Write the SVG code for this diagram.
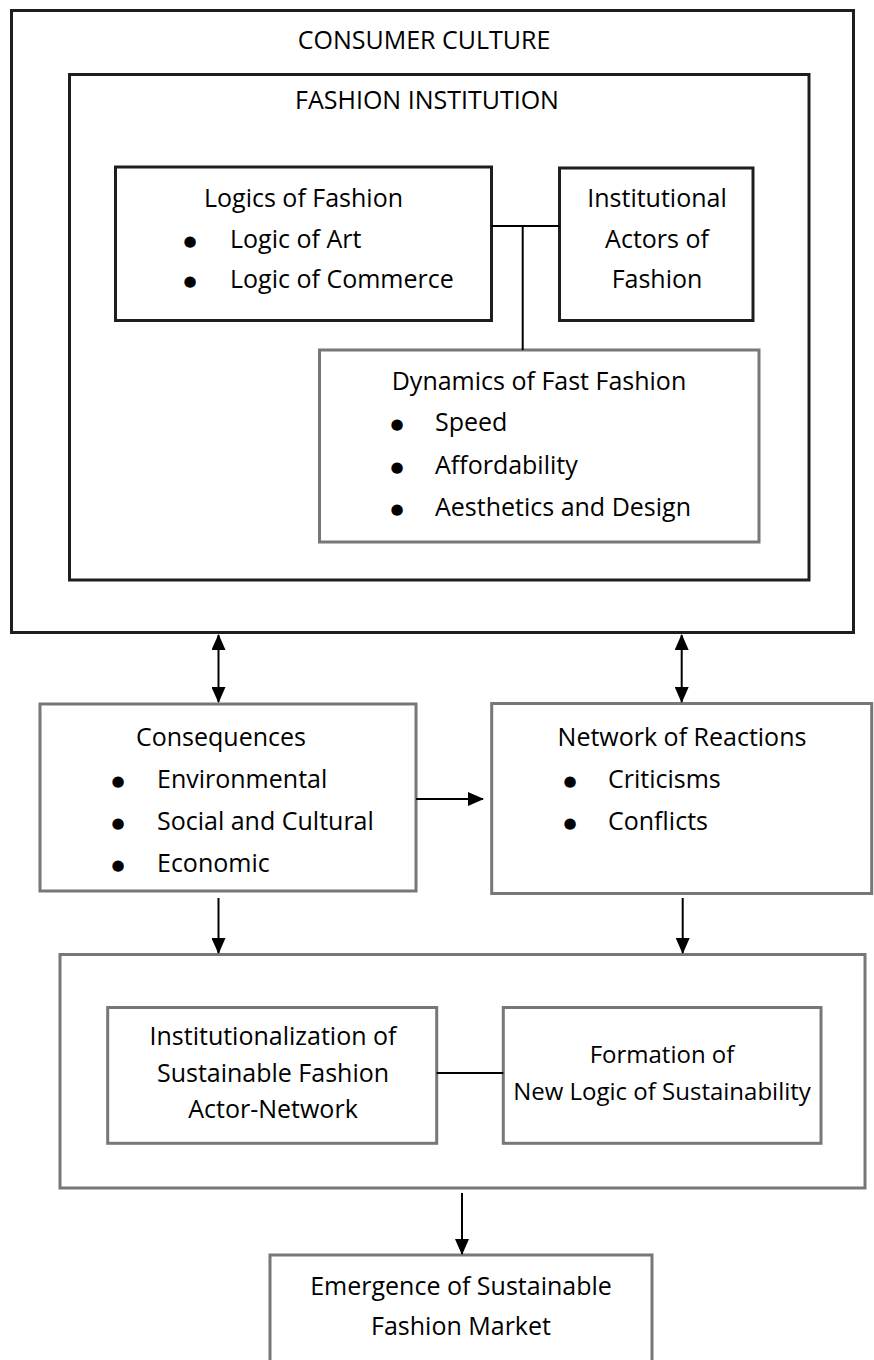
<svg xmlns="http://www.w3.org/2000/svg" width="874" height="1360" viewBox="0 0 874 1360">
<defs>
<style>
.blk{fill:none;stroke:#1e1e1e;stroke-width:3;stroke-linejoin:miter}
.gry{fill:none;stroke:#777;stroke-width:3;stroke-linejoin:miter}
.ln{fill:none;stroke:#000;stroke-width:2}
text{font-family:"Open Sans","Noto Sans","Liberation Sans",sans-serif;font-size:25px;fill:#000}
.c{text-anchor:middle}
.b{font-family:"DejaVu Sans",sans-serif;font-size:15px}
.s{font-size:24px}
</style>
<marker id="ah" viewBox="0 0 16 14" refX="15" refY="7" markerWidth="16" markerHeight="14" markerUnits="userSpaceOnUse" orient="auto-start-reverse">
<path d="M0,0 L16,7 L0,14 Z" fill="#000"/>
</marker>
</defs>
<rect width="874" height="1360" fill="#fff"/>

<g id="consumer-culture">
<rect class="blk" x="11.5" y="10.5" width="842" height="622"/>
<text class="c" x="424" y="49">CONSUMER CULTURE</text>
</g>

<g id="fashion-institution">
<rect class="blk" x="69.5" y="74.5" width="739.5" height="505.5"/>
<text class="c" x="427" y="109">FASHION INSTITUTION</text>
</g>

<g id="logics-of-fashion">
<rect class="blk" x="115.5" y="167" width="376" height="153.5"/>
<text class="c" x="303.5" y="207">Logics of Fashion</text>
<text x="183.5" y="248"><tspan class="b" dy="-2">●</tspan><tspan x="230" dy="2">Logic of Art</tspan></text>
<text x="183.5" y="288"><tspan class="b" dy="-2">●</tspan><tspan x="230" dy="2">Logic of Commerce</tspan></text>
</g>

<g id="institutional-actors">
<rect class="blk" x="559.5" y="168" width="193.5" height="152.5"/>
<text class="c" x="657" y="207">Institutional</text>
<text class="c" x="657" y="248">Actors of</text>
<text class="c" x="657" y="288">Fashion</text>
</g>

<g id="dynamics-fast-fashion">
<rect class="gry" x="319.5" y="350" width="439.5" height="192"/>
<text class="c" x="539" y="390">Dynamics of Fast Fashion</text>
<text x="390.5" y="431"><tspan class="b" dy="-2">●</tspan><tspan x="435" dy="2">Speed</tspan></text>
<text x="390.5" y="474"><tspan class="b" dy="-2">●</tspan><tspan x="435" dy="2">Affordability</tspan></text>
<text x="390.5" y="516"><tspan class="b" dy="-2">●</tspan><tspan x="435" dy="2">Aesthetics and Design</tspan></text>
</g>

<g id="consequences">
<rect class="gry" x="40" y="704" width="376" height="187"/>
<text class="c" x="221" y="746">Consequences</text>
<text x="111.5" y="788"><tspan class="b" dy="-2">●</tspan><tspan x="157" dy="2">Environmental</tspan></text>
<text x="111.5" y="830"><tspan class="b" dy="-2">●</tspan><tspan x="157" dy="2">Social and Cultural</tspan></text>
<text x="111.5" y="872"><tspan class="b" dy="-2">●</tspan><tspan x="157" dy="2">Economic</tspan></text>
</g>

<g id="network-of-reactions">
<rect class="gry" x="491.7" y="703.5" width="380" height="190"/>
<text class="c" x="682" y="746">Network of Reactions</text>
<text x="563.5" y="788"><tspan class="b" dy="-2">●</tspan><tspan x="608" dy="2">Criticisms</tspan></text>
<text x="563.5" y="830"><tspan class="b" dy="-2">●</tspan><tspan x="608" dy="2">Conflicts</tspan></text>
</g>

<g id="sustainability-frame">
<rect class="gry" x="60" y="954.5" width="805" height="233.5"/>
</g>

<g id="institutionalization">
<rect class="gry" x="107.7" y="1007.5" width="329" height="135.8"/>
<text class="c" x="273" y="1045">Institutionalization of</text>
<text class="c" x="273" y="1082">Sustainable Fashion</text>
<text class="c" x="273" y="1118">Actor-Network</text>
</g>

<g id="formation-new-logic">
<rect class="gry" x="503.3" y="1007.5" width="317.7" height="135.8"/>
<text class="c s" x="662" y="1063">Formation of</text>
<text class="c s" x="662" y="1100">New Logic of Sustainability</text>
</g>

<g id="emergence-market">
<rect class="gry" x="270" y="1255" width="382" height="120"/>
<text class="c" x="461" y="1295">Emergence of Sustainable</text>
<text class="c" x="461" y="1335">Fashion Market</text>
</g>

<g id="connectors">
<path class="ln" d="M491.5,226 H559.5 M522.7,226 V350"/>
<path class="ln" d="M218.5,635 V702" marker-start="url(#ah)" marker-end="url(#ah)"/>
<path class="ln" d="M681.7,635 V702" marker-start="url(#ah)" marker-end="url(#ah)"/>
<path class="ln" d="M416,799 H483" marker-end="url(#ah)"/>
<path class="ln" d="M218.5,898 V953" marker-end="url(#ah)"/>
<path class="ln" d="M682.7,898 V953" marker-end="url(#ah)"/>
<path class="ln" d="M436.7,1073 H503.3"/>
<path class="ln" d="M462,1193 V1254" marker-end="url(#ah)"/>
</g>
</svg>
